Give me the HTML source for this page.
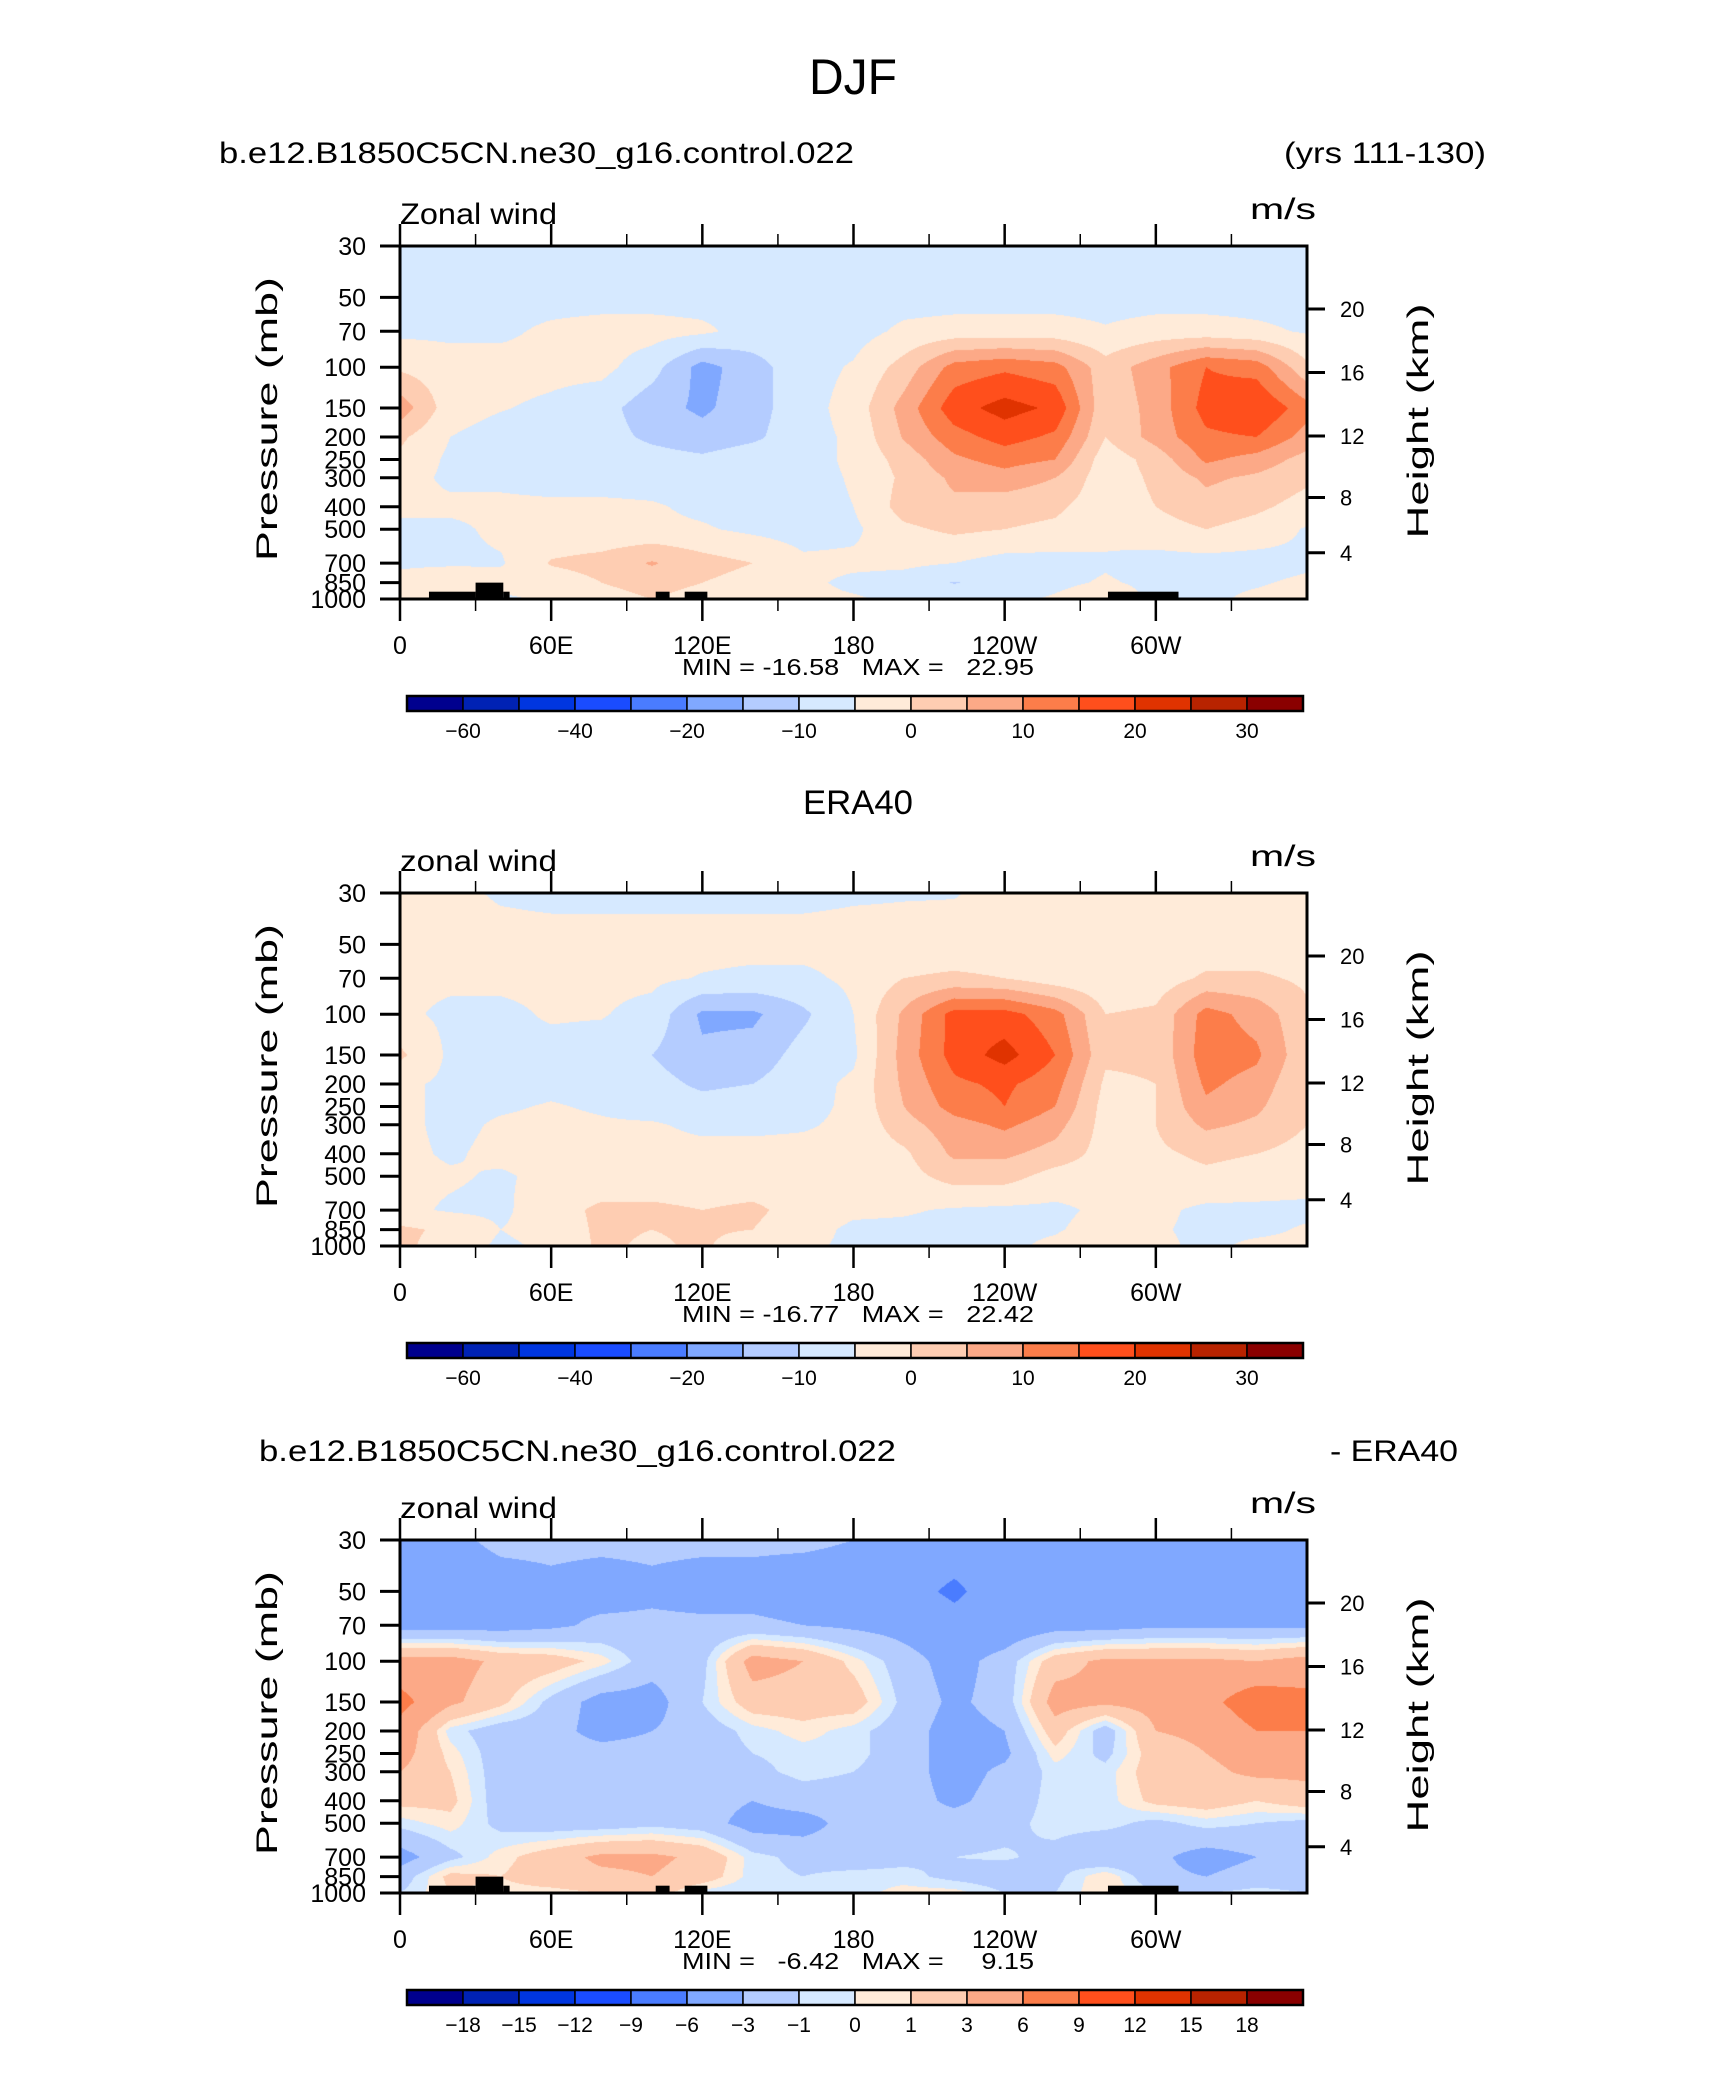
<!DOCTYPE html>
<html><head><meta charset="utf-8"><title>DJF Zonal wind</title>
<style>
html,body{margin:0;padding:0;background:#fff;}
#wrap{position:relative;width:1710px;height:2074px;overflow:hidden;background:#fff;}
canvas{position:absolute;}
svg{position:absolute;left:0;top:0;}
text{font-family:"Liberation Sans",Arial,sans-serif;fill:#000;}
</style></head>
<body>
<div id="wrap">
<canvas id="c0" width="907" height="353" style="left:400px;top:246px"></canvas>
<canvas id="c1" width="907" height="353" style="left:400px;top:893px"></canvas>
<canvas id="c2" width="907" height="353" style="left:400px;top:1540px"></canvas>
<svg id="s" width="1710" height="2074" xmlns="http://www.w3.org/2000/svg"></svg>
</div>
<script>
// ---- data ----
const lons = [0,20,40,60,80,100,120,140,160,180,200,220,240,260,280,300,320,340,360];
const levels = [30,50,70,100,150,200,250,300,400,500,700,850,1000];
const pTicks = [30,50,70,100,150,200,250,300,400,500,700,850,1000];
const zTicks = [4,8,12,16,20];
const lonTicks = [0,60,120,180,240,300];
const lonTickLabels = ["0","60E","120E","180","120W","60W"];
const lonMinor = [30,90,150,210,270,330];
const fullLevels = [-60,-50,-40,-30,-20,-15,-10,-5,0,5,10,15,20,25,30];
const fullLabels = ["-60","","-40","","-20","","-10","","0","","10","","20","","30"];
const diffLevels = [-18,-15,-12,-9,-6,-3,-1,0,1,3,6,9,12,15,18];
const diffLabels = ["-18","-15","-12","-9","-6","-3","-1","0","1","3","6","9","12","15","18"];
const palette = ["#00008e","#0022b4","#0036e0","#1a4cff","#4a7cff","#80a8ff","#b4ccff","#d6e9ff","#ffebd9","#fecdb2","#fca987","#fc7d4a","#ff4f1c","#e03300","#b82300","#8a0000"];
const topoLon0 = [11.5,30,41,101.5,113,281];
const topoLon1 = [30,41,43.5,107,122,309];
const topoP = [930,850,930,930,930,930];

const modelField = [
[-7,-7,-7,-7,-7,-7,-7,-7,-7,-7,-7,-7,-7,-7,-7,-7,-7,-7,-7],
[-7,-7,-7,-7,-7,-7,-7,-7,-7,-7,-7,-7,-7,-7,-7,-7,-7,-7,-7],
[-6,-6,-6,-4,-3,-3,-4,-7,-7,-7,-4,-3,-3,-3,-4.5,-3,-3,-4,-5.5],
[-1,-3,-3,-3.5,-3.5,-8,-17,-12,-7,-4.5,2,12,14,12,2,8,15,13,1],
[8,-3,-4.7,-6,-8,-13,-16,-12,-7,-3,7,18,22,19,1,7,17,20,12],
[1,-5,-7,-7,-8,-11,-13,-11,-7,-4,5.5,13,17,14,0,7,14,15,8],
[-1,-6,-7,-7,-7,-8,-9,-7,-7,-4,2,9,12,10,-3,2,11,8,3],
[-3,-6,-6,-7,-7,-7,-7,-7,-7,-4.5,1,6,8,5,-3,1,6,4,1],
[-4,-4,-4,-4,-4,-4.5,-6,-7,-7,-5,2,4,2,1,-3,0,3,1,-2],
[-6,-6,-4,-4,-4,-4,-4.5,-6,-7,-6,-1,1,0,-1,-4,-2,0,-2,-5.5],
[-6,-6,-5.5,0.5,2,5.5,2,0,-4,-4,-4,-5,-7,-7,-5.5,-7,-7,-7,-6],
[-3,0,-3,-3,0,2,0,-2,-4,-6,-7,-10.3,-8,-6,-4.5,-6,-6,-5.5,-4],
[-4,-1,-6,-4,-2,0,-2,-4,-4,-4.5,-6,-6,-6,-4.5,-2,-6,-6,-4,-3]];
const eraField = [
[-4,-4,-5.5,-6,-6,-6,-6,-6,-6,-5.5,-5.3,-5.2,-4,-4,-4,-4,-4,-4,-4],
[-3.5,-3.5,-3.5,-3.5,-3.5,-3.5,-3.5,-3.5,-3.5,-3.5,-3.5,-3.5,-3.5,-3.5,-3.5,-3.5,-3.5,-3.5,-3.5],
[-4,-4,-4,-4,-4,-4,-5.3,-6,-6,-4,0,1,0,-3,-4,-3,1,1,-1],
[-4,-6,-6,-4.5,-4.7,-6.5,-16,-16,-11,-5,6,17,17,12,0,1,12,8,1],
[1,-6,-6,-6.5,-7,-10,-14,-13,-8,-6,7,17,22,15,1,1,13,11,1],
[-4,-6,-6.5,-6,-6.5,-8,-11,-10,-7,-4,6,14,16,12,-1,0,11,8,0],
[-4,-6,-5.5,-4.7,-5.5,-7,-8,-7,-6.5,-4,5,12,15,10,-2,0,9,6,0],
[-4,-6,-4.5,-4,-4.5,-4.5,-6,-6,-5.5,-4,3,8,11,7,-2,0,6,4,0],
[-4,-5.5,-4,-3.5,-3.5,-3.5,-3.5,-3.5,-3.5,-3.5,-1,6,6,3,-2,-1,1,0,-2],
[-4,-4.5,-5.5,-4,-3,-3,-3,-3,-3,-3,-2,2,2,-2,-3,-2,-1,-2,-3],
[-4,-5.5,-6,-2,1,1,0,1,-2,-4,-4.5,-5.5,-6,-6,-4,-4,-6,-6,-6],
[1,-1,-5,-3,1,0,1,0,-3,-6,-6,-6.5,-6,-5.5,-3,-4.5,-6,-6,-4.5],
[1,-2,-6,-4,1,-1,1,-4,-4,-6,-6,-6,-6,-4,0,-4,-6,-4,-4]];
const diffField = [
[-4,-3.5,-2.5,-2.5,-2.5,-2.5,-2.5,-2.5,-2.5,-3,-3.5,-4.5,-4.5,-4.5,-4.5,-4.5,-4.5,-4.5,-4.5],
[-4.5,-4.5,-4,-3.5,-4,-3.5,-4,-4,-4.5,-4.5,-5,-6.5,-4.5,-5,-5,-5,-5,-5,-5],
[-4,-4,-4,-3.5,-2.5,-2.5,-2.5,-2.5,-3,-3.5,-4,-5,-5,-4,-4,-3.5,-3.5,-3.5,-3.5],
[4,4,2.5,2,0.5,-2,-1.5,4,3,0.5,-2,-4,-2,2,3.5,3.5,3.5,3,4],
[7,3.5,1.5,-1.5,-4,-4,-1,2,2,2,-1.5,-3.5,-2,4,3.5,4,5,8,7],
[5,-0.5,-2,-2,-4,-3,-2,-0.5,0.5,-0.5,-2,-4,-3,2,-2,3,3.5,6,6],
[4,0.5,-2,-2,-2,-2,-2,-1,-0.5,-0.5,-2,-4,-3.5,0.5,-1.5,2,3,4,4],
[3,1,-2,-2,-2,-2,-2,-1.5,-0.5,-1,-2,-4,-2.5,-0.5,-0.5,2,2.5,3.5,3.5],
[1.5,1.5,-2,-2,-2,-2,-2,-3,-2,-2,-2,-3.5,-2,-0.5,-0.5,1.5,2,1,2],
[-0.5,0.5,-1.5,-2,-2,-1.5,-2,-4,-4,-2,-2,-2,-1.5,-0.5,-0.5,-1.5,-0.5,-1,-1.5],
[-4,-1.5,0.5,2,3.5,3.5,2.5,-0.5,-1.5,-2,-1.5,-1,-0.8,-1.5,-3,-2.5,-4,-3,-2.5],
[-2,1.5,1,2,2.5,3,2,-0.5,-1,-0.5,-0.5,-1.5,-2,-1.5,1,-2.5,-3,-2,-2],
[-1,1,0.5,0.5,1,2,-0.5,-1,-1,-0.5,0.5,0.5,-1,-1,1,-1,-1,-0.5,-1]];

// ---- layout ----
const PL = 400, PW = 907, PH = 353;
const tops = [246, 893, 1540];
const LOGR = Math.log10(1000/30);
function xOf(lon){ return PL + lon/360*PW; }
function yOf(p, top){ return top + PH - PH*Math.log10(1000/p)/LOGR; }
function zToP(z){ const m=z*1000; let p = m<=11000 ? 1013.25*Math.pow(1-2.25577e-5*m,5.25588) : 226.32*Math.exp(-(m-11000)/6341.6); return p*1.025; }
function hexRGB(h){ return [parseInt(h.substr(1,2),16),parseInt(h.substr(3,2),16),parseInt(h.substr(5,2),16)]; }
const palRGB = palette.map(hexRGB);

const NS = "http://www.w3.org/2000/svg";
const svg = document.getElementById('s');
function mk(tag, attrs){ const e=document.createElementNS(NS,tag); for(const k in attrs) e.setAttribute(k,attrs[k]); svg.appendChild(e); return e; }
function txt(x,y,str,size,anchor,len){
  const t = mk('text',{x:x,y:y,'font-size':size,'text-anchor':anchor||'start'});
  if(len){ t.setAttribute('textLength',len); t.setAttribute('lengthAdjust','spacingAndGlyphs'); }
  t.textContent = str; return t;
}

function drawField(cid, field, lv){
  const cv = document.getElementById(cid); const ctx = cv.getContext('2d');
  const img = ctx.createImageData(PW, PH);
  const logL = levels.map(p=>Math.log10(p));
  for(let y=0;y<PH;y++){
    const frac = (PH - (y+0.5))/PH;
    const lp = Math.log10(1000) - frac*LOGR;
    let k=0; while(k<levels.length-2 && lp>logL[k+1]) k++;
    let ty = (lp-logL[k])/(logL[k+1]-logL[k]); ty=Math.max(0,Math.min(1,ty));
    for(let x=0;x<PW;x++){
      const lon = (x+0.5)/PW*360;
      let i = Math.min(lons.length-2, Math.floor(lon/20));
      const tx = (lon - lons[i])/(lons[i+1]-lons[i]);
      const v = (1-ty)*((1-tx)*field[k][i]+tx*field[k][i+1]) + ty*((1-tx)*field[k+1][i]+tx*field[k+1][i+1]);
      let c=0; while(c<lv.length && v>=lv[c]) c++;
      const col = palRGB[c]; const o=(y*PW+x)*4;
      img.data[o]=col[0]; img.data[o+1]=col[1]; img.data[o+2]=col[2]; img.data[o+3]=255;
    }
  }
  ctx.putImageData(img,0,0);
}
drawField('c0', modelField, fullLevels);
drawField('c1', eraField, fullLevels);
drawField('c2', diffField, diffLevels);

// ---- headers ----
let e;
e = txt(853, 94, "DJF", 50, 'middle', 88);


e = txt(219, 163, "b.e12.B1850C5CN.ne30_g16.control.022", 30, 'start', 635);


e = txt(1486, 163, "(yrs 111-130)", 30, 'end', 202);


e = txt(858, 814, "ERA40", 34, 'middle', 110);


e = txt(259, 1461, "b.e12.B1850C5CN.ne30_g16.control.022", 30, 'start', 637);


e = txt(1458, 1461, "- ERA40", 30, 'end', 128);



const varNames = ["Zonal wind","zonal wind","zonal wind"];
const minmax = ["MIN\u00a0=\u00a0-16.58\u00a0\u00a0\u00a0MAX\u00a0=\u00a0\u00a0\u00a022.95","MIN\u00a0=\u00a0-16.77\u00a0\u00a0\u00a0MAX\u00a0=\u00a0\u00a0\u00a022.42","MIN\u00a0=\u00a0\u00a0\u00a0-6.42\u00a0\u00a0\u00a0MAX\u00a0=\u00a0\u00a0\u00a0\u00a0\u00a09.15"];

tops.forEach((top, pi)=>{
  const bot = top+PH;
  if(pi!==1){
    for(let j=0;j<topoLon0.length;j++){
      const r = mk('rect',{x:xOf(topoLon0[j]), y:yOf(topoP[j],top), width:xOf(topoLon1[j])-xOf(topoLon0[j]), height:bot-yOf(topoP[j],top), fill:'#000'});
      
      
    }
  }
  const fr = mk('rect',{x:PL,y:top,width:PW,height:PH,fill:'none',stroke:'#000','stroke-width':3});
  
  
  lonTicks.forEach((lon,i)=>{
    const x=xOf(lon);
    const t1 = mk('line',{x1:x,y1:top-22,x2:x,y2:top,stroke:'#000','stroke-width':2.5});
    
    
    const t2 = mk('line',{x1:x,y1:bot,x2:x,y2:bot+22,stroke:'#000','stroke-width':2.5});
    
    
    const lb = txt(x, bot+55, lonTickLabels[i], 25, 'middle');
    
    
  });
  lonMinor.forEach(lon=>{
    const x=xOf(lon);
    const m1 = mk('line',{x1:x,y1:top-12,x2:x,y2:top,stroke:'#000','stroke-width':1.5});
    
    
    const m2 = mk('line',{x1:x,y1:bot,x2:x,y2:bot+12,stroke:'#000','stroke-width':1.5});
    
    
  });
  pTicks.forEach(p=>{
    const y=yOf(p,top);
    const tk = mk('line',{x1:PL-20,y1:y,x2:PL,y2:y,stroke:'#000','stroke-width':3});
    
    
    const lb = txt(366, y+9, String(p), 25, 'end');
    
    
  });
  zTicks.forEach(z=>{
    const y=yOf(zToP(z),top);
    const tk = mk('line',{x1:PL+PW,y1:y,x2:PL+PW+18,y2:y,stroke:'#000','stroke-width':3});
    
    
    const lb = txt(1340, y+8, String(z), 22, 'start');
    
    
  });
  const yt = txt(0,0,"Pressure  (mb)",30,'middle',284);
  yt.setAttribute('transform','translate(277,'+(top+173)+') rotate(-90)');
  
  
  const ht = txt(0,0,"Height  (km)",30,'middle',235);
  ht.setAttribute('transform','translate(1428,'+(top+175)+') rotate(-90)');
  
  
  const vn = txt(400, top-22, varNames[pi], 30, 'start', 157);
  
  
  const un = txt(1316, top-27, "m/s", 30, 'end', 66);
  
  
  const mm = txt(682, top+429, minmax[pi], 23, 'start', 352);
  
  
  const cbx=407, cbw=896, cby=top+450, cbh=15, bw=cbw/16;
  for(let b=0;b<16;b++){
    const r = mk('rect',{x:cbx+b*bw,y:cby,width:bw,height:cbh,fill:palette[b],stroke:'#000','stroke-width':1.5});
    
    
  }
  const ob = mk('rect',{x:cbx,y:cby,width:cbw,height:cbh,fill:'none',stroke:'#000','stroke-width':2.5});
  
  
  const labs = pi===2 ? diffLabels : fullLabels;
  labs.forEach((s,i)=>{
    if(!s) return;
    const l = txt(cbx+(i+1)*bw, cby+42, s.replace('-','\u2212'), 21, 'middle');
    
    
  });
});
</script>
</body></html>
